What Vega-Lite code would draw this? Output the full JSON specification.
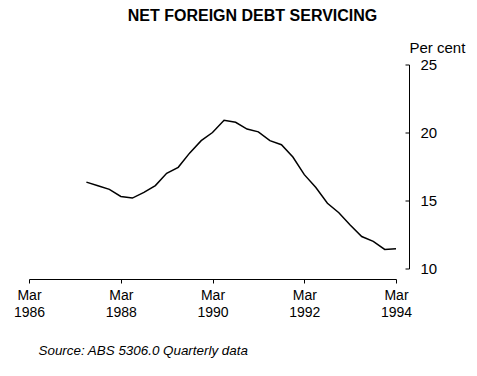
{
  "$schema": "https://vega.github.io/schema/vega-lite/v6.json",
  "width": 367,
  "height": 204,
  "autosize": {"type": "none"},
  "padding": {"left": 29, "top": 64.5, "right": 81, "bottom": 107.5},
  "background": "white",
  "title": {
    "text": "NET FOREIGN DEBT SERVICING",
    "font": "Liberation Sans",
    "fontSize": 16,
    "fontWeight": "bold",
    "color": "black",
    "anchor": "middle",
    "frame": "group",
    "dx": 40,
    "dy": -12
  },
  "data": {
    "values": [
      {"quarter": "1987-06-01", "pct": 16.35},
      {"quarter": "1987-09-01", "pct": 16.08},
      {"quarter": "1987-12-01", "pct": 15.82},
      {"quarter": "1988-03-01", "pct": 15.3},
      {"quarter": "1988-06-01", "pct": 15.18},
      {"quarter": "1988-09-01", "pct": 15.6},
      {"quarter": "1988-12-01", "pct": 16.1},
      {"quarter": "1989-03-01", "pct": 17.0},
      {"quarter": "1989-06-01", "pct": 17.44},
      {"quarter": "1989-09-01", "pct": 18.5},
      {"quarter": "1989-12-01", "pct": 19.4},
      {"quarter": "1990-03-01", "pct": 20.0},
      {"quarter": "1990-06-01", "pct": 20.9},
      {"quarter": "1990-09-01", "pct": 20.75},
      {"quarter": "1990-12-01", "pct": 20.25},
      {"quarter": "1991-03-01", "pct": 20.05},
      {"quarter": "1991-06-01", "pct": 19.4},
      {"quarter": "1991-09-01", "pct": 19.1},
      {"quarter": "1991-12-01", "pct": 18.2},
      {"quarter": "1992-03-01", "pct": 16.9},
      {"quarter": "1992-06-01", "pct": 15.95},
      {"quarter": "1992-09-01", "pct": 14.8},
      {"quarter": "1992-12-01", "pct": 14.1},
      {"quarter": "1993-03-01", "pct": 13.2},
      {"quarter": "1993-06-01", "pct": 12.35},
      {"quarter": "1993-09-01", "pct": 12.0},
      {"quarter": "1993-12-01", "pct": 11.4},
      {"quarter": "1994-03-01", "pct": 11.45}
    ]
  },
  "mark": {"type": "line", "color": "black", "strokeWidth": 1.5},
  "encoding": {
    "x": {
      "field": "quarter",
      "type": "temporal",
      "scale": {
        "type": "utc",
        "domain": [
          {"year": 1986, "month": 3, "date": 1, "utc": true},
          {"year": 1994, "month": 3, "date": 1, "utc": true}
        ]
      },
      "axis": {
        "offset": 10.5,
        "values": [
          {"year": 1986, "month": 3, "date": 1, "utc": true},
          {"year": 1988, "month": 3, "date": 1, "utc": true},
          {"year": 1990, "month": 3, "date": 1, "utc": true},
          {"year": 1992, "month": 3, "date": 1, "utc": true},
          {"year": 1994, "month": 3, "date": 1, "utc": true}
        ],
        "labelExpr": "['Mar', utcFormat(datum.value, '%Y')]",
        "labelFont": "Liberation Sans",
        "labelFontSize": 14,
        "labelColor": "black",
        "labelLineHeight": 17,
        "labelPadding": 5,
        "labelFlush": false,
        "labelOverlap": false,
        "tickSize": 4,
        "tickColor": "black",
        "domainColor": "black",
        "grid": false,
        "title": "Source: ABS 5306.0 Quarterly data",
        "titleFont": "Liberation Sans",
        "titleFontStyle": "italic",
        "titleFontWeight": "normal",
        "titleFontSize": 13.4,
        "titleColor": "black",
        "titleAlign": "left",
        "titleBaseline": "middle",
        "titleX": 9,
        "titleY": 71
      }
    },
    "y": {
      "field": "pct",
      "type": "quantitative",
      "scale": {"domain": [10, 25], "nice": false, "zero": false},
      "axis": {
        "orient": "right",
        "offset": 13,
        "values": [10, 15, 20, 25],
        "tickSize": -4,
        "labelPadding": 15,
        "labelFont": "Liberation Sans",
        "labelFontSize": 15,
        "labelColor": "black",
        "labelFlush": false,
        "labelOverlap": false,
        "tickColor": "black",
        "domainColor": "black",
        "grid": false,
        "title": "Per cent",
        "titleFont": "Liberation Sans",
        "titleFontSize": 15,
        "titleFontWeight": "normal",
        "titleColor": "black",
        "titleAngle": 0,
        "titleAlign": "left",
        "titleBaseline": "middle",
        "titleX": 0,
        "titleY": -17.5
      }
    }
  },
  "config": {"view": {"stroke": null}}
}
